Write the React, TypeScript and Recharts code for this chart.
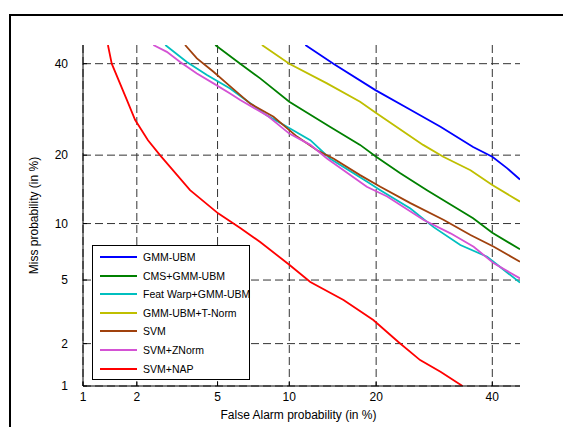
import { LineChart, Line, XAxis, YAxis, CartesianGrid, Label } from 'recharts';

// DET plot: both axes on a normal-deviate (probit) scale, values in %
const TICK_PCT = [1, 2, 5, 10, 20, 40];
const TICK_LABELS = ['1', '2', '5', '10', '20', '40'];

const gmmUbmFa = [11.5, 14.5, 19.9, 24.7, 30.3, 36.3, 40, 42.9, 45.5];
const gmmUbmMiss = [44.7, 40, 33.6, 29.5, 25.5, 21.5, 19.7, 17.75, 15.9];

const cmsFa = [4.88, 6.3, 7.65, 10, 14.1, 17.8, 20, 23.6, 27.96, 33.3, 36.3, 40, 45.5];
const cmsMiss = [44.7, 40, 36.4, 30.9, 25.5, 21.9, 19.7, 16.9, 14.3, 11.8, 10.6, 9.0, 7.39];

const warpFa = [2.81, 3.59, 4.47, 5.69, 6.5, 8.15, 9.8, 12, 14.1, 18.7, 20.6, 25.2, 29.1, 33.9, 39, 45.5];
const warpMiss = [44.7, 40.4, 37.2, 34, 31.7, 27.9, 25.5, 22.8, 19.4, 15.6, 14.3, 11.8, 9.6, 7.78, 6.75, 4.83];

const tnormFa = [7.78, 10, 13.77, 17.8, 20.1, 27.3, 30.8, 35.8, 40, 45.5];
const tnormMiss = [44.7, 40, 35.2, 30.9, 28.3, 21.9, 19.7, 17.4, 15.06, 12.7];

const svmFa = [3.52, 4.01, 4.79, 5.5, 6.95, 8.67, 10.7, 12.7, 14.5, 17.8, 20.6, 25.2, 30.9, 35.8, 40.3, 45.5];
const svmMiss = [44.7, 41.3, 38, 35.2, 30.5, 27.6, 23.5, 20.9, 19.4, 16.6, 14.8, 12.5, 10.4, 8.76, 7.62, 6.34];

const znormFa = [2.44, 2.86, 3.33, 4.01, 4.79, 5.69, 6.3, 8.15, 10, 12, 13.77, 18.7, 21.6, 27.4, 32.1, 36.4, 40.3, 45.5];
const znormMiss = [44.7, 42.96, 40.4, 37.6, 35.2, 32.8, 31.3, 27.9, 24.1, 21.9, 19.4, 14.8, 13.4, 10.4, 8.94, 7.62, 6.21, 5.11];

const napFa = [1.39, 1.46, 1.77, 1.96, 2.29, 2.64, 3.72, 5.03, 6.3, 7.65, 10, 12, 15.7, 19.6, 23.3, 26.8, 30.3, 34.3];
const napMiss = [44.7, 40, 31.3, 26.9, 22.8, 20, 14.3, 11.2, 9.5, 8.07, 6.1, 4.87, 3.81, 2.86, 2.05, 1.54, 1.27, 1.0];

const SERIES = [
  { name: 'GMM-UBM', color: '#0000ff', fa: gmmUbmFa, miss: gmmUbmMiss },
  { name: 'CMS+GMM-UBM', color: '#008000', fa: cmsFa, miss: cmsMiss },
  { name: 'Feat Warp+GMM-UBM', color: '#00bfbf', fa: warpFa, miss: warpMiss },
  { name: 'GMM-UBM+T-Norm', color: '#bfbf00', fa: tnormFa, miss: tnormMiss },
  { name: 'SVM', color: '#a0410d', fa: svmFa, miss: svmMiss },
  { name: 'SVM+ZNorm', color: '#d452d4', fa: znormFa, miss: znormMiss },
  { name: 'SVM+NAP', color: '#ff0000', fa: napFa, miss: napMiss },
];

// inverse normal CDF (Acklam), input in percent
function probit(pct: number) {
  const p = pct / 100;
  const a = [-39.69683028665376, 220.9460984245205, -275.9285104469687, 138.357751867269, -30.66479806614716, 2.506628277459239];
  const b = [-54.47609879822406, 161.5858368580409, -155.6989798598866, 66.80131188771972, -13.28068155288572];
  const c = [-0.007784894002430293, -0.3223964580411365, -2.400758277161838, -2.549732539343734, 4.374664141464968, 2.938163982698783];
  const d = [0.007784695709041462, 0.3224671290700398, 2.445134137142996, 3.754408661907416];
  const pl = 0.02425;
  if (p < pl) {
    const q = Math.sqrt(-2 * Math.log(p));
    return (((((c[0] * q + c[1]) * q + c[2]) * q + c[3]) * q + c[4]) * q + c[5]) / ((((d[0] * q + d[1]) * q + d[2]) * q + d[3]) * q + 1);
  }
  if (p <= 1 - pl) {
    const q = p - 0.5;
    const r = q * q;
    return (((((a[0] * r + a[1]) * r + a[2]) * r + a[3]) * r + a[4]) * r + a[5]) * q / (((((b[0] * r + b[1]) * r + b[2]) * r + b[3]) * r + b[4]) * r + 1);
  }
  const q = Math.sqrt(-2 * Math.log(1 - p));
  return -(((((c[0] * q + c[1]) * q + c[2]) * q + c[3]) * q + c[4]) * q + c[5]) / ((((d[0] * q + d[1]) * q + d[2]) * q + d[3]) * q + 1);
}

const ticks = TICK_PCT.map(probit);
const fmt = (v: number) => {
  let best = 0;
  ticks.forEach((t, i) => { if (Math.abs(t - v) < Math.abs(ticks[best] - v)) best = i; });
  return TICK_LABELS[best];
};

const font = { fontFamily: '"Liberation Sans", Arial, sans-serif', fontSize: 12, fill: '#000' };

export default function App() {
  return (
    <div style={{ position: 'absolute', left: 0, top: 0, width: 563, height: 427, overflow: 'hidden', background: '#fff' }}>
      <div style={{ position: 'absolute', left: 9, top: 14, width: 600, height: 500, border: '2px solid #000' }} />
      <div style={{ position: 'absolute', left: 0, top: 0 }}>
        <LineChart width={563} height={427} margin={{ top: 45, right: 43, bottom: 0, left: 0 }}>
          <CartesianGrid stroke="#333" strokeDasharray="8 4" syncWithTicks horizontalValues={ticks} verticalValues={ticks} />
          <XAxis
            type="number"
            dataKey="x"
            domain={[probit(1), probit(45.5)]}
            allowDataOverflow
            ticks={ticks}
            tickFormatter={fmt}
            height={41}
            stroke="#000"
            tickSize={-4}
            tickMargin={10}
            tick={font}
          >
            <Label value="False Alarm probability (in %)" position="center" dx={-3} dy={8} style={font} />
          </XAxis>
          <YAxis
            type="number"
            dataKey="y"
            domain={[probit(1), probit(44.7)]}
            allowDataOverflow
            ticks={ticks}
            tickFormatter={fmt}
            width={83}
            stroke="#000"
            tickSize={-4}
            tickMargin={19}
            tick={font}
          >
            <Label value="Miss probability (in %)" position="center" angle={-90} dx={-8} style={font} />
          </YAxis>
          {SERIES.map((s) => (
            <Line
              key={s.name}
              data={s.fa.map((f, i) => ({ x: probit(f), y: probit(s.miss[i]) }))}
              dataKey="y"
              stroke={s.color}
              strokeWidth={1.8}
              dot={false}
              isAnimationActive={false}
            />
          ))}
        </LineChart>
      </div>
      <div
        style={{
          position: 'absolute', left: 92, top: 245, width: 156, height: 133,
          border: '1px solid #000', background: '#fff',
          fontFamily: '"Liberation Sans", Arial, sans-serif', fontSize: 10.5,
        }}
      >
        {SERIES.map((s, i) => (
          <div key={s.name} style={{ position: 'absolute', left: 7, top: 3 + i * 18.6, height: 16, display: 'flex', alignItems: 'center' }}>
            <div style={{ width: 37, height: 2, background: s.color }} />
            <span style={{ marginLeft: 6, whiteSpace: 'nowrap' }}>{s.name}</span>
          </div>
        ))}
      </div>
    </div>
  );
}
